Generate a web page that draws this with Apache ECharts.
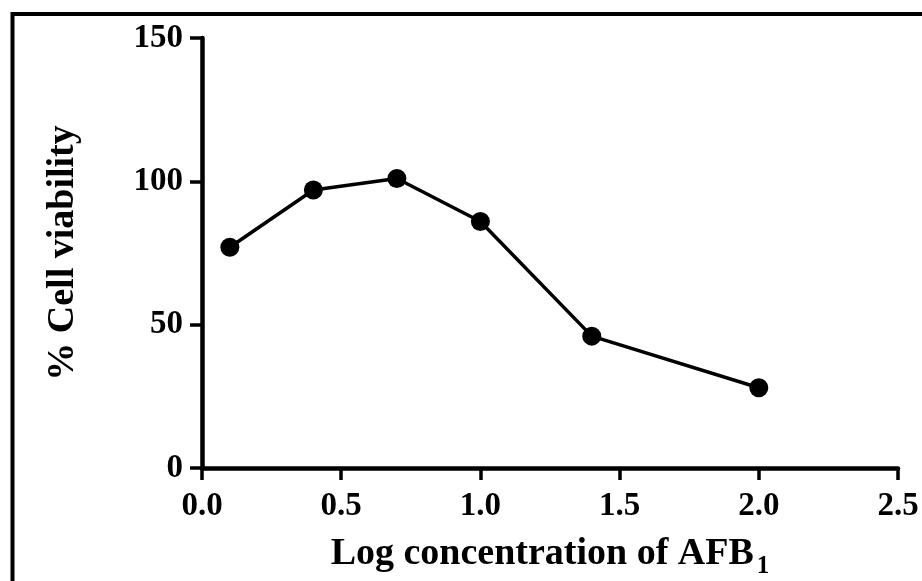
<!DOCTYPE html>
<html>
<head>
<meta charset="utf-8">
<script src="https://cdn.jsdelivr.net/npm/echarts@6/dist/echarts.min.js"></script>
<style>html,body{margin:0;padding:0;background:#fff;}#c{width:922px;height:581px;}</style>
</head>
<body>
<div id="c"></div>
<script>
var logConc = [0.1, 0.4, 0.7, 1.0, 1.4, 2.0];
var viability = [77, 97, 101, 86, 46, 28];
var xTicks = [0, 0.5, 1.0, 1.5, 2.0, 2.5];
var yTicks = [0, 50, 100, 150];
var xTitle = 'Log concentration of AFB';
var xSub = '1';
var yTitle = '% Cell viability';

var FONT = '"Liberation Serif", "Times New Roman", serif';
var chart = echarts.init(document.getElementById('c'), null, {renderer: 'canvas'});
var pts = logConc.map(function (x, i) { return [x, viability[i]]; });
chart.setOption({
  animation: false,
  backgroundColor: '#fff',
  grid: {left: 202, top: 38, width: 696, height: 430, containLabel: false, outerBoundsMode: 'none'},
  graphic: [{
    type: 'rect', silent: true, z: 100,
    shape: {x: 12.5, y: 14, width: 1000, height: 700},
    style: {fill: 'none', stroke: '#000', lineWidth: 4}
  }],
  xAxis: {
    type: 'value', min: xTicks[0], max: xTicks[xTicks.length - 1], interval: 0.5,
    axisLine: {lineStyle: {color: '#000', width: 4.5}},
    axisTick: {length: 12, lineStyle: {color: '#000', width: 3.5}},
    splitLine: {show: false},
    axisLabel: {color: '#000', fontFamily: FONT, fontWeight: 'bold', fontSize: 33, margin: 22,
      formatter: function (v) { return v.toFixed(1); }},
    name: '{a|' + xTitle + '}{s|' + xSub + '}',
    nameLocation: 'middle', nameGap: 61,
    nameTextStyle: {
      rich: {
        a: {fontFamily: FONT, fontWeight: 'bold', fontSize: 38, color: '#000'},
        s: {fontFamily: FONT, fontWeight: 'bold', fontSize: 25, color: '#000', padding: [25, 0, 0, 3]}
      }
    }
  },
  yAxis: {
    type: 'value', min: yTicks[0], max: yTicks[yTicks.length - 1], interval: 50,
    axisLine: {show: true, lineStyle: {color: '#000', width: 4.5}},
    axisTick: {show: true, length: 12, lineStyle: {color: '#000', width: 3.5}},
    splitLine: {show: false},
    axisLabel: {color: '#000', fontFamily: FONT, fontWeight: 'bold', fontSize: 33, margin: 19},
    name: yTitle, nameLocation: 'middle', nameGap: 120, nameRotate: 90,
    nameTextStyle: {fontFamily: FONT, fontWeight: 'bold', fontSize: 38, color: '#000'}
  },
  series: [{
    type: 'line', data: pts,
    symbol: 'circle', symbolSize: 19,
    lineStyle: {color: '#000', width: 3.5},
    itemStyle: {color: '#000'}
  }]
});
</script>
</body>
</html>
